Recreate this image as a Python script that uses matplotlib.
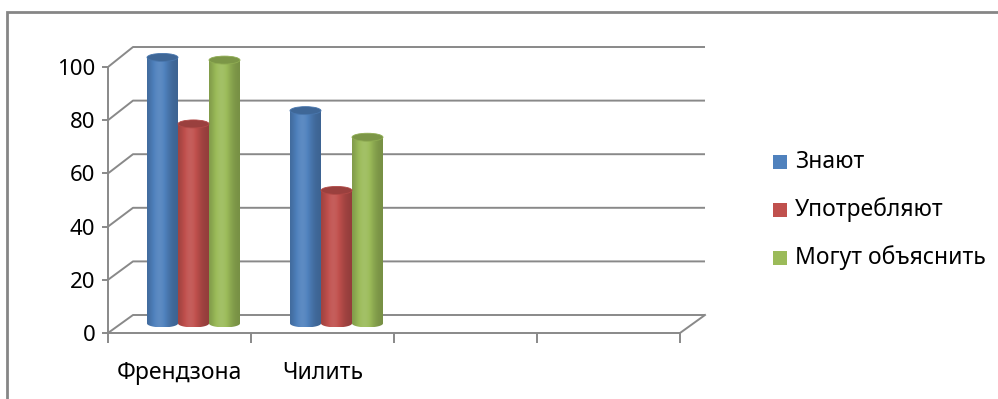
import numpy as np
import matplotlib
matplotlib.use("Agg")
import matplotlib.pyplot as plt
from matplotlib.patches import Rectangle, Ellipse, Polygon
from matplotlib.colors import to_rgb

plt.rcParams['font.family'] = ['Noto Sans', 'DejaVu Sans']

# ---- data ----
categories = ['Френдзона', 'Чилить', '', '']
series_names = ['Знают', 'Употребляют', 'Могут объяснить']
znayut = [100, 80]
upotreblyayut = [75, 50]
mogut_obyasnit = [99, 70]
series_values = [znayut, upotreblyayut, mogut_obyasnit]
series_colors = ['#4F81BD', '#C0504D', '#9BBB59']
y_ticks = [0, 20, 40, 60, 80, 100]

W, H = 998, 399
fig = plt.figure(figsize=(W / 100, H / 100), dpi=100)
fig.patch.set_facecolor('white')

# outer chart border (cut at right/bottom as in reference)
fig.add_artist(Rectangle((7 / W, -0.1), 1.2, (H - 12) / H + 0.1, transform=fig.transFigure,
                         fill=False, edgecolor='#868686', linewidth=2))

# axes placed so that front plane: x 0..4 -> px 108..680, y 0..100 -> px 333..67
px_cat = 143.0
px_val = 2.66
ax_l, ax_r, ax_t, ax_b = 108, 708, 40, 345
ax = fig.add_axes([ax_l / W, (H - ax_b) / H, (ax_r - ax_l) / W, (ax_b - ax_t) / H])
ax.set_xlim(0, (ax_r - ax_l) / px_cat)
ax.set_ylim(-(ax_b - 333) / px_val, (333 - ax_t) / px_val)
ax.patch.set_alpha(0)

grid_c = '#898989'
grid_lw = 1.4
ncat = len(categories)

# back wall offsets (3D depth)
dxb = 25 / px_cat
dyb = 18 / px_val
sb = 1.0075

def back_y(v):
    return dyb + v * sb

for v in y_ticks:
    ax.plot([0, dxb, ncat + dxb], [v, back_y(v), back_y(v)], color=grid_c, lw=grid_lw,
            solid_capstyle='butt', zorder=1)
# right floor edge
ax.plot([ncat, ncat + dxb], [0, back_y(0)], color=grid_c, lw=grid_lw, zorder=1)

# spines / ticks
for s in ['top', 'right']:
    ax.spines[s].set_visible(False)
ax.spines['left'].set_bounds(0, 100)
ax.spines['bottom'].set_position(('data', 0))
ax.spines['bottom'].set_bounds(0, ncat)
for s in ['left', 'bottom']:
    ax.spines[s].set_color(grid_c)
    ax.spines[s].set_linewidth(grid_lw)
    ax.spines[s].set_zorder(2)

ax.set_yticks(y_ticks)
ax.set_yticklabels([str(t) for t in y_ticks])
ax.tick_params(axis='y', direction='out', length=4, width=grid_lw, color=grid_c,
               labelsize=16, pad=5, labelcolor='black')
ax.set_xticks(np.arange(ncat + 1))
ax.set_xticklabels([''] * (ncat + 1))
ax.tick_params(axis='x', which='major', direction='out', length=7, width=grid_lw, color=grid_c)
ax.set_xticks(np.arange(ncat) + 0.5, minor=True)
ax.set_xticklabels(categories, minor=True)
ax.tick_params(axis='x', which='minor', length=0, labelsize=16.5, pad=20, labelcolor='black')

# cylinders
bw = 31 / px_cat
dxc = 14 / px_cat
dyc = 3.6
eh = 3.0

def shade(base, f):
    base = np.array(base)
    if f <= 1:
        return base * f
    return base + (1 - base) * (f - 1)

t = np.linspace(0, 1, 64)
prof = 0.76 + 0.32 * np.exp(-((t - 0.40) / 0.33) ** 2)

for j, (vals, col) in enumerate(zip(series_values, series_colors)):
    base = to_rgb(col)
    grad = np.array([[shade(base, f) for f in prof]])
    for i, v in enumerate(vals):
        xc = i + 0.5 + (j - 1) * bw + dxc
        x0, x1 = xc - bw / 2, xc + bw / 2
        yb = dyc
        yt = dyc + v
        th = np.linspace(np.pi, 2 * np.pi, 40)
        arc = np.column_stack([xc + bw / 2 * np.cos(th), yb + eh / 2 * np.sin(th)])
        pts = np.vstack([[x0, yt], arc, [x1, yt]])
        poly = Polygon(pts, closed=True, facecolor='none', edgecolor='none')
        ax.add_patch(poly)
        im = ax.imshow(grad, extent=[x0, x1, yb - eh / 2, yt], aspect='auto',
                       interpolation='bilinear', zorder=3)
        im.set_clip_path(poly)
        top = Ellipse((xc, yt), bw, eh, facecolor=shade(base, 0.80),
                      edgecolor=shade(base, 0.92), linewidth=0.6, zorder=4)
        ax.add_patch(top)

ax.set_xlim(0, (ax_r - ax_l) / px_cat)
ax.set_ylim(-(ax_b - 333) / px_val, (333 - ax_t) / px_val)

# legend (manual)
leg_y = [162, 210, 258]
for name, col, yy in zip(series_names, series_colors, leg_y):
    fig.add_artist(Rectangle((773 / W, (H - yy - 7) / H), 14 / W, 14 / H,
                             transform=fig.transFigure, facecolor=col, edgecolor='none'))
    fig.text(795 / W, (H - yy) / H, name, fontsize=16.5, va='center', ha='left', color='black')

fig.savefig('out.png', dpi=100, facecolor='white')
